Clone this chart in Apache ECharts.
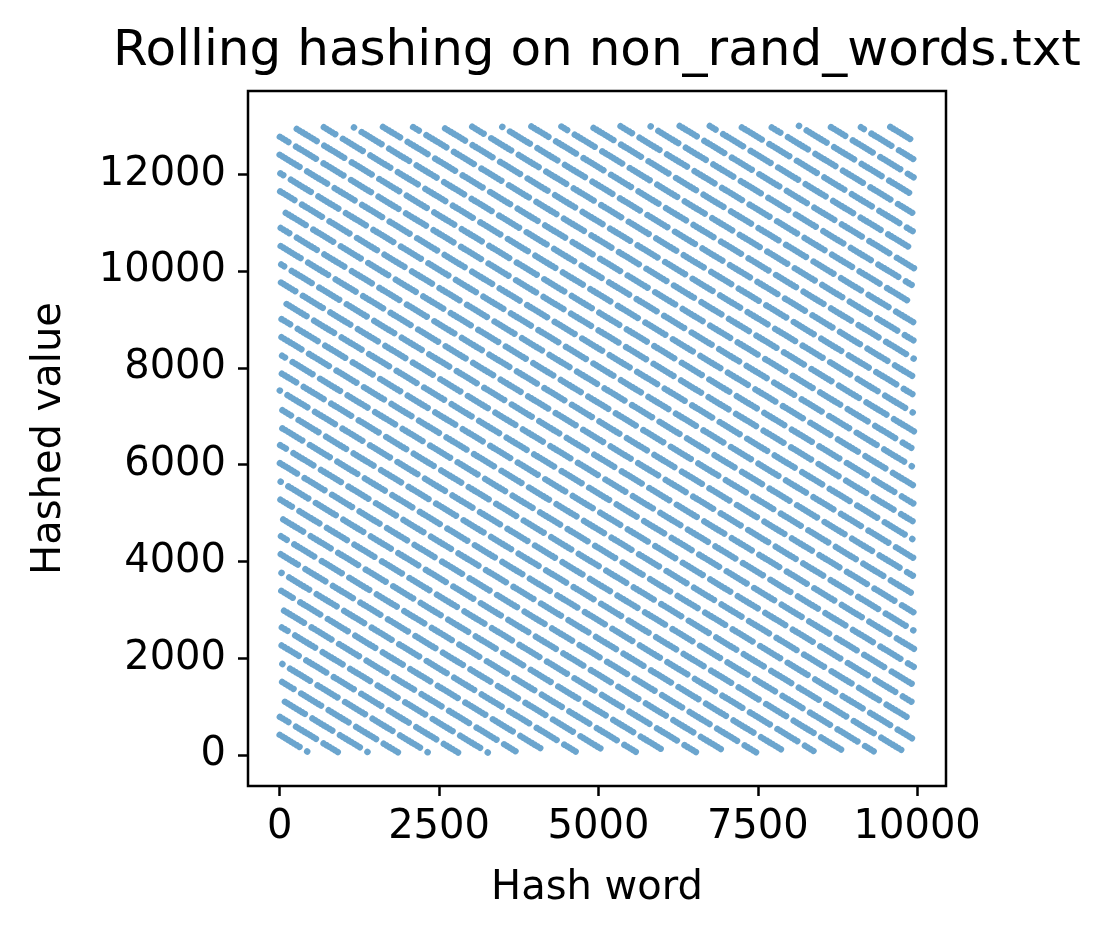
<!DOCTYPE html>
<html>
<head>
<meta charset="utf-8">
<script src="https://cdn.jsdelivr.net/npm/echarts@6/dist/echarts.min.js"></script>
<style>
  html, body { margin: 0; padding: 0; background: #fff; }
  #chart { width: 1112px; height: 941px; }
</style>
</head>
<body>
<div id="chart"></div>
<script>
// stripes of hashed points (hash word -> hashed value)
var stripeStartX = [0, 0, 0, 0, 0, 0, 0, 0, 0, 0, 0, 0, 0, 0, 0, 0, 0, 0, 0, 0,
  0, 0, 0, 0, 0, 0, 0, 0, 0, 0, 0, 0, 0, 0,
  186, 654, 1123, 1590, 2059, 2526, 2995, 3463, 3931, 4399, 4868, 5335, 5804, 6271,
  6740, 7208, 7676, 8144, 8613, 9080, 9549];
var stripeStartY = [416, 790, 1165, 1539, 1914, 2288, 2663, 3037, 3412, 3786, 4161, 4535,
  4910, 5284, 5659, 6033, 6408, 6782, 7157, 7531, 7906, 8280, 8655, 9029, 9404, 9778,
  10153, 10527, 10902, 11276, 11651, 12025, 12400, 12774,
  13000, 13000, 13000, 13000, 13000, 13000, 13000, 13000, 13000, 13000, 13000, 13000,
  13000, 13000, 13000, 13000, 13000, 13000, 13000, 13000, 13000];
var stripeEndX = [458, 925, 1394, 1861, 2330, 2798, 3266, 3734, 4203, 4670, 5139, 5606,
  6075, 6543, 7011, 7479, 7948, 8415, 8884, 9351, 9820,
  9950, 9950, 9950, 9950, 9950, 9950, 9950, 9950, 9950, 9950, 9950, 9950, 9950, 9950,
  9950, 9950, 9950, 9950, 9950, 9950, 9950, 9950, 9950, 9950, 9950, 9950, 9950, 9950,
  9950, 9950, 9950, 9950, 9950, 9950];
var stripeEndY = [50, 50, 50, 50, 50, 50, 50, 50, 50, 50, 50, 50, 50, 50, 50, 50, 50,
  50, 50, 50, 50,
  320, 695, 1069, 1444, 1818, 2193, 2567, 2942, 3316, 3691, 4065, 4440, 4814, 5189,
  5563, 5938, 6312, 6687, 7061, 7436, 7810, 8185, 8559, 8934, 9308, 9683, 10057,
  10432, 10806, 11181, 11555, 11930, 12304, 12679];

var xTicks = [0, 2500, 5000, 7500, 10000];
var yTicks = [0, 2000, 4000, 6000, 8000, 10000, 12000];

var chart = echarts.init(document.getElementById('chart'));

// dotted look: 8 dots then a short gap
var dots = [0.01, 3.3, 0.01, 3.3, 0.01, 3.3, 0.01, 3.3, 0.01, 3.3, 0.01, 3.3, 0.01, 3.3, 0.01, 9];

var series = [];
for (var i = 0; i < stripeStartX.length; i++) {
  series.push({
    type: 'line',
    symbol: 'none',
    silent: true,
    data: [[stripeStartX[i], stripeStartY[i]], [stripeEndX[i], stripeEndY[i]]],
    lineStyle: {
      color: 'rgba(31,119,180,0.66)',
      width: 6.5,
      type: dots,
      cap: 'round',
      dashOffset: (i * 13) % 32
    }
  });
}

function plain(v) { return String(v); }

var option = {
  animation: false,
  title: {
    text: 'Rolling hashing on non_rand_words.txt',
    left: 597,
    top: 27,
    textAlign: 'center',
    padding: 0,
    textStyle: { fontFamily: 'DejaVu Sans', fontSize: 50, fontWeight: 'normal', color: '#000' }
  },
  grid: {
    left: 248, top: 91, width: 698, height: 695,
    show: true, borderColor: '#000', borderWidth: 2.5
  },
  xAxis: {
    type: 'value',
    min: -497,
    max: 10452,
    name: 'Hash word',
    nameLocation: 'middle',
    nameGap: 83,
    nameTextStyle: { fontFamily: 'DejaVu Sans', fontSize: 40, color: '#000' },
    axisLine: { show: false, onZero: false },
    splitLine: { show: false },
    axisTick: { show: true, length: 10, lineStyle: { color: '#000', width: 2.5 }, customValues: xTicks },
    axisLabel: { fontFamily: 'DejaVu Sans', fontSize: 40, color: '#000', margin: 22, customValues: xTicks, formatter: plain }
  },
  yAxis: {
    type: 'value',
    min: -641,
    max: 13718,
    name: 'Hashed value',
    nameLocation: 'middle',
    nameGap: 178,
    nameTextStyle: { fontFamily: 'DejaVu Sans', fontSize: 40, color: '#000' },
    axisLine: { show: false, onZero: false },
    splitLine: { show: false },
    axisTick: { show: true, length: 10, lineStyle: { color: '#000', width: 2.5 }, customValues: yTicks },
    axisLabel: { fontFamily: 'DejaVu Sans', fontSize: 40, color: '#000', margin: 22, customValues: yTicks, formatter: plain }
  },
  series: series
};

chart.setOption(option);
</script>
</body>
</html>
